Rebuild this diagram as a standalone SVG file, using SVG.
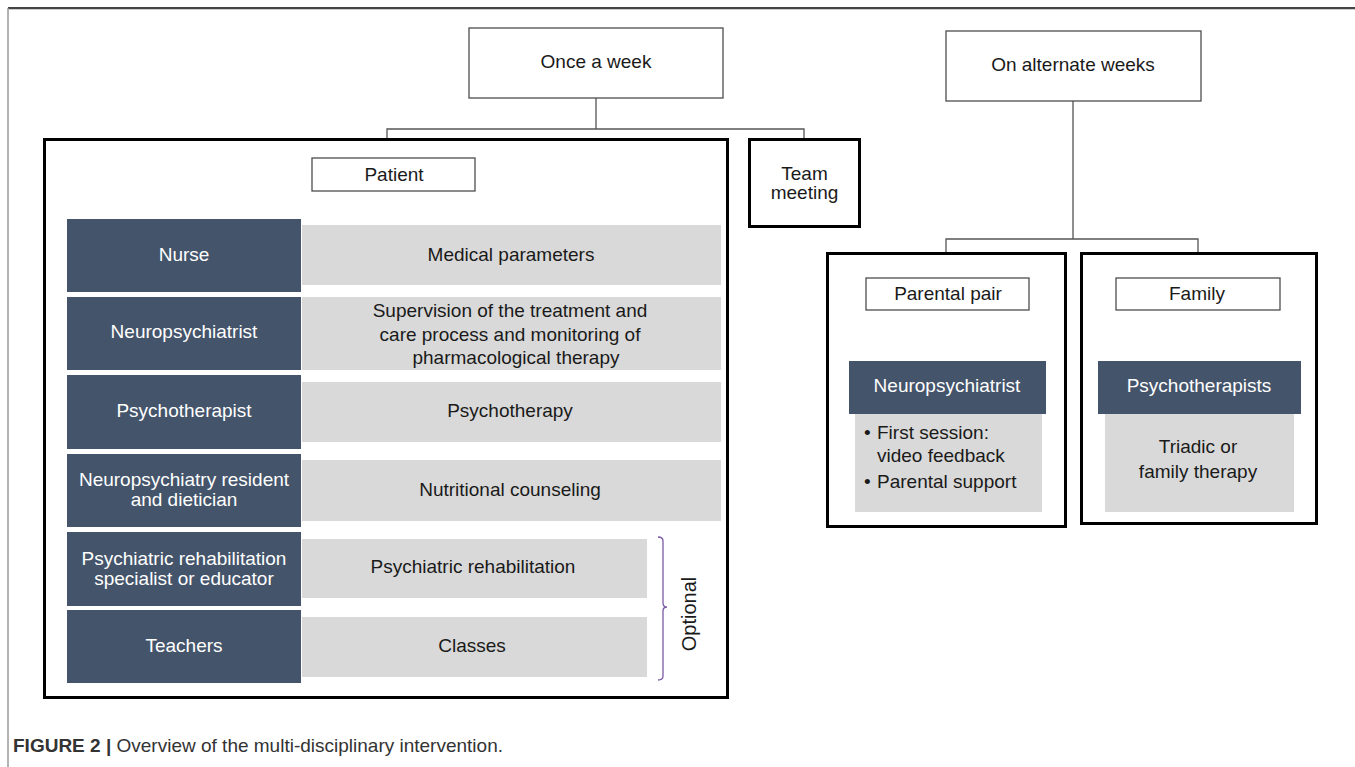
<svg xmlns="http://www.w3.org/2000/svg" width="1355" height="767" viewBox="0 0 1355 767">
<style>
text{font-family:"Liberation Sans",Arial,sans-serif;font-size:19px;fill:#1a1a1a}
.w{fill:#ffffff}
.m{text-anchor:middle}
.dark{fill:#44546A}
.gray{fill:#D9D9D9}
.thin{fill:#ffffff;stroke:#4d4d4d;stroke-width:1.3}
.thick{fill:#ffffff;stroke:#000000;stroke-width:3}
.conn{fill:none;stroke:#555555;stroke-width:1.3}
</style>
<rect width="1355" height="767" fill="#ffffff"/>
<g id="frame">
<line x1="8" y1="8" x2="1355" y2="8" stroke="#444444" stroke-width="2"/>
<line x1="8" y1="9.5" x2="1355" y2="9.5" stroke="#cccccc" stroke-width="1"/>
<line x1="8" y1="8" x2="8" y2="767" stroke="#9a9a9a" stroke-width="1.5"/>
</g>
<g id="connectors">
<path class="conn" d="M596,98 V129 M387,139 V129 H804 V139"/>
<path class="conn" d="M1073,101 V239 M946,253 V239 H1198 V253"/>
</g>
<g id="once-a-week">
<rect class="thin" x="469" y="28" width="254" height="70"/>
<text class="m" x="596" y="68">Once a week</text>
</g>
<g id="alternate-weeks">
<rect class="thin" x="946" y="31" width="255" height="70"/>
<text class="m" x="1073" y="71">On alternate weeks</text>
</g>
<g id="team-meeting">
<rect class="thick" x="749.5" y="139.5" width="110" height="87"/>
<text class="m" x="804.5" y="180">Team</text>
<text class="m" x="804.5" y="199">meeting</text>
</g>
<g id="patient-group">
<rect class="thick" x="44.5" y="139.5" width="683" height="558"/>
<rect class="thin" x="312" y="158" width="163" height="33"/>
<text class="m" x="394" y="181">Patient</text>
</g>
<g id="row-nurse">
<rect class="dark" x="67" y="219" width="234" height="73"/>
<rect class="gray" x="302" y="225" width="419" height="60"/>
<text class="m w" x="184" y="261">Nurse</text>
<text class="m" x="511" y="261">Medical parameters</text>
</g>
<g id="row-neuropsychiatrist">
<rect class="dark" x="67" y="297" width="234" height="73"/>
<rect class="gray" x="302" y="297" width="419" height="73"/>
<text class="m w" x="184" y="338">Neuropsychiatrist</text>
<text class="m" x="510" y="317">Supervision of the treatment and</text>
<text class="m" x="510" y="341">care process and monitoring of</text>
<text class="m" x="516" y="364">pharmacological therapy</text>
</g>
<g id="row-psychotherapist">
<rect class="dark" x="67" y="375" width="234" height="74"/>
<rect class="gray" x="302" y="382" width="419" height="60"/>
<text class="m w" x="184" y="417">Psychotherapist</text>
<text class="m" x="510" y="417">Psychotherapy</text>
</g>
<g id="row-dietician">
<rect class="dark" x="67" y="454" width="234" height="73"/>
<rect class="gray" x="302" y="460" width="419" height="61"/>
<text class="m w" x="184" y="486">Neuropsychiatry resident</text>
<text class="m w" x="184" y="506">and dietician</text>
<text class="m" x="510" y="496">Nutritional counseling</text>
</g>
<g id="row-rehabilitation">
<rect class="dark" x="67" y="532" width="234" height="74"/>
<rect class="gray" x="302" y="539" width="345" height="59"/>
<text class="m w" x="184" y="565">Psychiatric rehabilitation</text>
<text class="m w" x="184" y="585">specialist or educator</text>
<text class="m" x="473" y="573">Psychiatric rehabilitation</text>
</g>
<g id="row-teachers">
<rect class="dark" x="67" y="610" width="234" height="73"/>
<rect class="gray" x="302" y="617" width="345" height="60"/>
<text class="m w" x="184" y="652">Teachers</text>
<text class="m" x="472" y="652">Classes</text>
</g>
<g id="optional">
<path d="M658,537 Q663,537 663,541 V603 Q663,607 667,607 Q663,607 663,611 V676 Q663,680 658,680" fill="none" stroke="#7B5AA6" stroke-width="1.3"/>
<text class="m" transform="translate(696,614) rotate(-90)" style="font-size:20px">Optional</text>
</g>
<g id="parental-pair">
<rect class="thick" x="827.5" y="253.5" width="238" height="273"/>
<rect class="thin" x="866" y="278" width="163" height="32"/>
<text class="m" x="948" y="300">Parental pair</text>
<rect class="gray" x="855" y="414" width="187" height="98"/>
<rect class="dark" x="849" y="361" width="197" height="53"/>
<text class="m w" x="947" y="392">Neuropsychiatrist</text>
<text x="864" y="439">•</text>
<text x="877" y="439">First session:</text>
<text x="877" y="462">video feedback</text>
<text x="864" y="488">•</text>
<text x="877" y="488">Parental support</text>
</g>
<g id="family">
<rect class="thick" x="1081.5" y="253.5" width="235" height="270"/>
<rect class="thin" x="1116" y="278" width="164" height="32"/>
<text class="m" x="1197" y="300">Family</text>
<rect class="gray" x="1105" y="414" width="189" height="98"/>
<rect class="dark" x="1098" y="361" width="203" height="53"/>
<text class="m w" x="1199" y="392">Psychotherapists</text>
<text class="m" x="1198" y="453">Triadic or</text>
<text class="m" x="1198" y="478">family therapy</text>
</g>
<g id="caption">
<text x="13" y="752" style="font-size:19px;fill:#333333"><tspan font-weight="bold">FIGURE 2 |</tspan> Overview of the multi-disciplinary intervention.</text>
</g>
</svg>
